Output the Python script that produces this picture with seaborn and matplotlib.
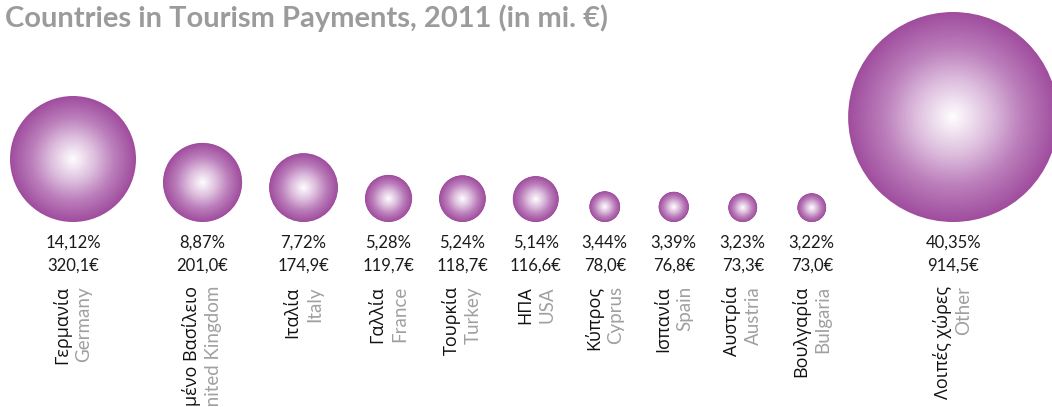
import numpy as np
import pandas as pd
import matplotlib
matplotlib.use('Agg')
import matplotlib.pyplot as plt
from matplotlib.colors import LinearSegmentedColormap
import seaborn as sns

# Data (tourism payments 2011, million €)
countries_gr = ['Γερμανία', 'Ηνωμένο Βασίλειο', 'Ιταλία', 'Γαλλία', 'Τουρκία', 'ΗΠΑ',
                'Κύπρος', 'Ισπανία', 'Αυστρία', 'Βουλγαρία', 'Λοιπές χώρες']
countries_en = ['Germany', 'United Kingdom', 'Italy', 'France', 'Turkey', 'USA',
                'Cyprus', 'Spain', 'Austria', 'Bulgaria', 'Other']
payments = [320.1, 201.0, 174.9, 119.7, 118.7, 116.6, 78.0, 76.8, 73.3, 73.0, 914.5]
shares = [14.12, 8.87, 7.72, 5.28, 5.24, 5.14, 3.44, 3.39, 3.23, 3.22, 40.35]

sns.set_theme(style='white')
plt.rcParams['font.family'] = ['Lato', 'Open Sans', 'DejaVu Sans']

W, H, DPI = 1052, 407, 100
fig = plt.figure(figsize=(W / DPI, H / DPI), dpi=DPI)
ax = fig.add_axes([0, 0, 1, 1])

# Bubble radius proportional to value (the big "other" bubble is capped)
px_per_mio = 63 / 320.1
r_max = 105
base_y = 222
radii = np.minimum(np.array(payments) * px_per_mio, r_max)

# Place bubbles left to right with a fixed gap between edges
xs = [10 + radii[0]]
for i in range(1, len(radii)):
    xs.append(xs[-1] + max(radii[i - 1] + radii[i] + 27, 69))
xs[-1] -= 5  # the "other" bubble sits a bit closer

# Radial gradient: stack of shrinking discs, outer (dark) to inner (white)
n_layers = 90
rows = []
for x, r in zip(xs, radii):
    for k in range(n_layers):
        t = 1 - k / n_layers
        rows.append({'x': x, 'y': base_y - r, 't': t,
                     's': (2 * r * t * 72 / DPI) ** 2})
layers = pd.DataFrame(rows)
smax = layers['s'].max()

cmap = LinearSegmentedColormap.from_list('bubble', ['#ffffff', '#e0c3e0', '#bb7ebb', '#a04d9e'])
sns.scatterplot(data=layers, x='x', y='y', hue='t', hue_norm=(0, 1), palette=cmap,
                size='s', sizes=(0, smax), size_norm=(0, smax),
                linewidth=0, legend=False, ax=ax)

for x, sh, v, gr, en in zip(xs, shares, payments, countries_gr, countries_en):
    ax.text(x, 243, f'{sh:.2f}%'.replace('.', ','), ha='center', va='center',
            fontsize=12, color='#1a1a1a')
    ax.text(x, 266, f'{v:.1f}€'.replace('.', ','), ha='center', va='center',
            fontsize=12, color='#1a1a1a')
    ax.text(x - 11, 286, gr, rotation=90, ha='center', va='top',
            fontsize=13, color='#111111', family=['Open Sans', 'DejaVu Sans'])
    ax.text(x + 11, 286, en, rotation=90, ha='center', va='top',
            fontsize=13.5, color='#a0a0a0')

ax.text(608, 18, 'Countries in Tourism Payments, 2011 (in mi. €)', ha='right', va='center',
        fontsize=21, fontweight='bold', color='#9b9b9b')

ax.set_xlim(0, W)
ax.set_ylim(H, 0)
ax.axis('off')

fig.savefig('out.png', dpi=DPI)
